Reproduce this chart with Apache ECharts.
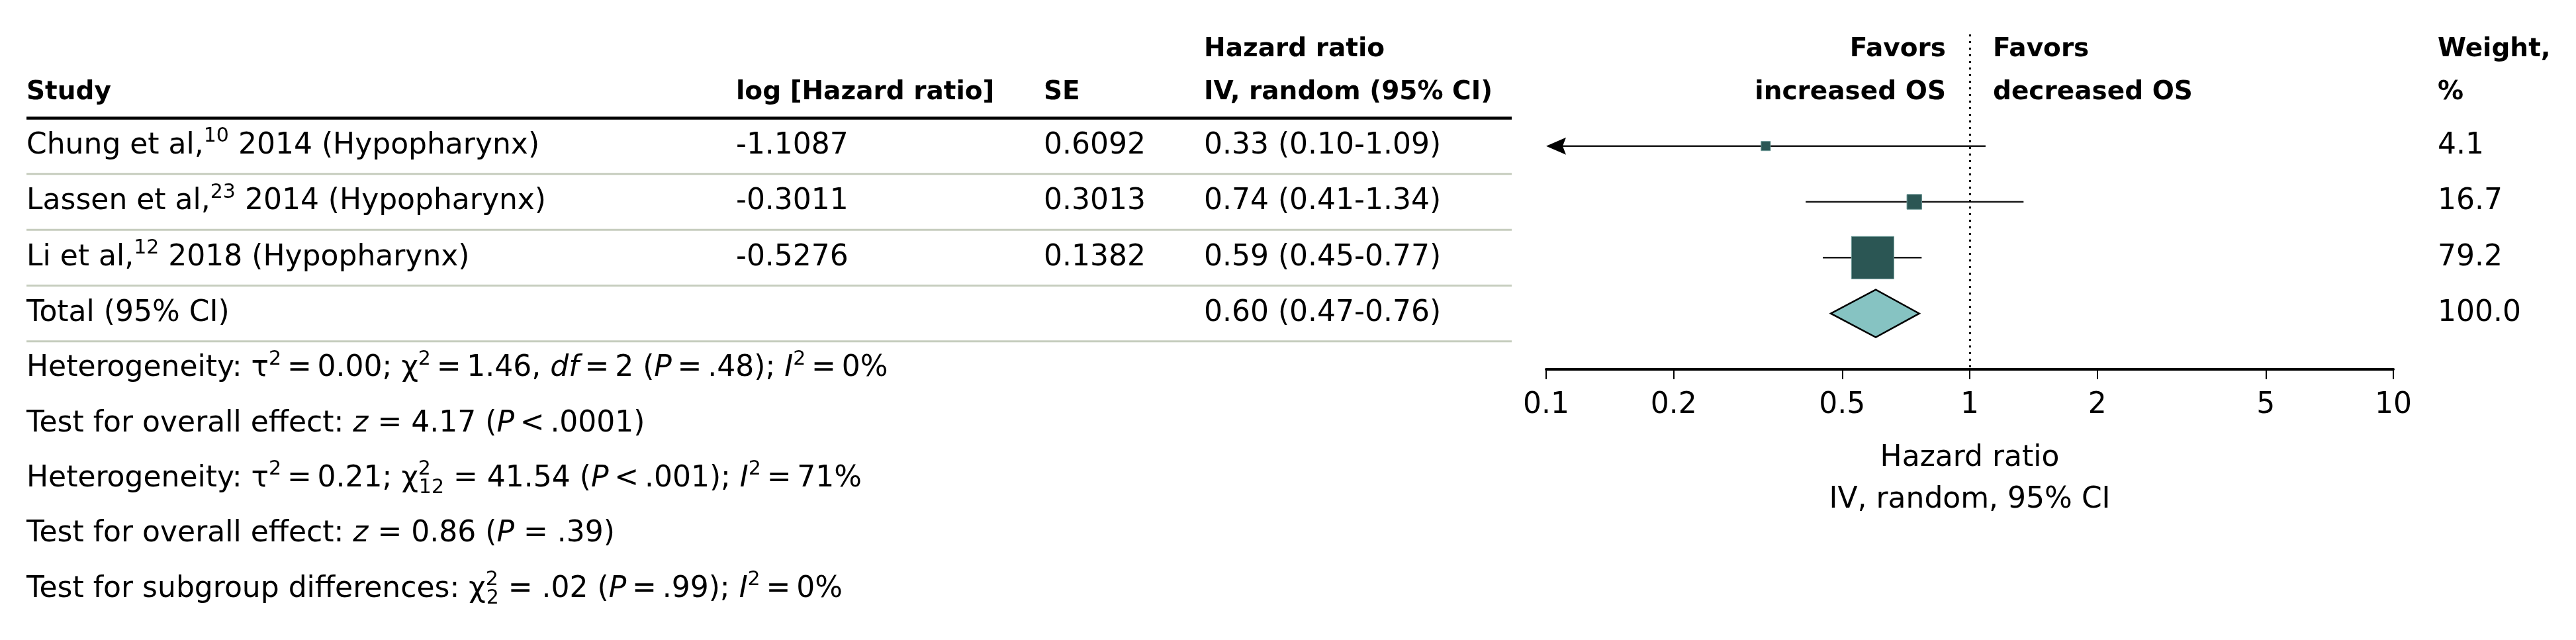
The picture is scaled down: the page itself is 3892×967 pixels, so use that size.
<!DOCTYPE html>
<html><head><meta charset="utf-8">
<script src="https://cdn.jsdelivr.net/npm/echarts@6/dist/echarts.min.js"></script>
<style>html,body{margin:0;padding:0;background:#fff}#c{width:3892px;height:967px}</style>
</head><body><div id="c"></div><script>
// ---------------- data ----------------
const studyNames = ['Chung et al,', 'Lassen et al,', 'Li et al,'];
const studyRefs = ['10', '23', '12'];
const studyYears = ['2014', '2014', '2018'];
const studySites = ['(Hypopharynx)', '(Hypopharynx)', '(Hypopharynx)'];
const logHR = ['-1.1087', '-0.3011', '-0.5276'];
const seValues = ['0.6092', '0.3013', '0.1382'];
const hrEst = [0.33, 0.74, 0.59];
const hrLow = [0.10, 0.41, 0.45];
const hrHigh = [1.09, 1.34, 0.77];
const weights = [4.1, 16.7, 79.2];
const totalLabel = ['Total (95% CI)'];
const totalEst = [0.60];
const totalLow = [0.47];
const totalHigh = [0.76];
const totalWeight = [100.0];
const xTicks = [0.1, 0.2, 0.5, 1, 2, 5, 10];
const headers = ['Study', 'log [Hazard ratio]', 'SE', 'Hazard ratio\nIV, random (95% CI)', 'Weight,\n%'];
const favorsLabels = ['Favors\nincreased OS', 'Favors\ndecreased OS'];
const axisTitle = 'Hazard ratio\nIV, random, 95% CI';
const footnotes = [
  'Heterogeneity: τ{sup|2}\u2009=\u20090.00; χ{sup|2}\u2009=\u20091.46, {it|df}\u2009=\u20092 ({it|P}\u2009=\u2009.48); {it|I}{sup|2}\u2009=\u20090%',
  'Test for overall effect: {it|z} = 4.17 ({it|P}\u2009<\u2009.0001)',
  'Heterogeneity: τ{sup|2}\u2009=\u20090.21; χ{supz|2}{sub|12} = 41.54 ({it|P}\u2009<\u2009.001); {it|I}{sup|2}\u2009=\u200971%',
  'Test for overall effect: {it|z} = 0.86 ({it|P} = .39)',
  'Test for subgroup differences: χ{supz|2}{sub|2} = .02 ({it|P}\u2009=\u2009.99); {it|I}{sup|2}\u2009=\u20090%'
];

// ---------------- style / layout ----------------
const FONT = 'DejaVu Sans';
const REG = 44, BOLD = 39, SUP = 30, LH = 58;
const AXIS_MIN = 0.1, AXIS_MAX = 10;
const GRID = {left: 2336, top: 52, width: 1280, height: 506};
const COL = {study: 40, log: 1112, se: 1577, hr: 1819, weight: 3683};
const RULE_X = [40, 2284];
const HEAD_Y = [75, 140];
const FOOT_Y0 = 557, FOOT_DY = 83.3;
const SQ_BASE = 11.3, SQ_SLOPE = 0.666;
const DIAMOND_HALF = 36;

const chart = echarts.init(document.getElementById('c'), null, {renderer: 'canvas'});

function renderStudy(params, api) {
  const lo = api.value(0), hi = api.value(1), est = api.value(2), row = api.value(3), w = api.value(4);
  const arrow = lo <= AXIS_MIN;
  const pLo = api.coord([Math.max(lo, AXIS_MIN), row]);
  const pHi = api.coord([Math.min(hi, AXIS_MAX), row]);
  const pEst = api.coord([est, row]);
  const size = SQ_BASE + SQ_SLOPE * w;
  const children = [];
  children.push({type: 'line', shape: {x1: arrow ? pLo[0] + 20 : pLo[0], y1: pLo[1], x2: pHi[0], y2: pHi[1]},
    style: {stroke: '#1a1a1a', lineWidth: 2.5}});
  if (arrow) {
    children.push({type: 'polygon', shape: {points: [[pLo[0], pLo[1]], [pLo[0] + 30, pLo[1] - 13], [pLo[0] + 25, pLo[1]], [pLo[0] + 30, pLo[1] + 13]]},
      style: {fill: '#000'}});
  }
  children.push({type: 'rect', shape: {x: pEst[0] - size / 2, y: pEst[1] - size / 2, width: size, height: size},
    style: {fill: '#2b5654', stroke: '#6a9694', lineWidth: 1}});
  return {type: 'group', children};
}

function renderTotal(params, api) {
  const row = api.value(3);
  const pLo = api.coord([api.value(0), row]);
  const pHi = api.coord([api.value(1), row]);
  const pEst = api.coord([api.value(2), row]);
  return {type: 'polygon', shape: {points: [[pLo[0], pLo[1]], [pEst[0], pEst[1] - DIAMOND_HALF], [pHi[0], pHi[1]], [pEst[0], pEst[1] + DIAMOND_HALF]]},
    style: {fill: '#86c3c2', stroke: '#000', lineWidth: 2.5}};
}

const option = {
  animation: false,
  backgroundColor: '#fff',
  grid: {left: GRID.left, top: GRID.top, width: GRID.width, height: GRID.height, containLabel: false},
  xAxis: {
    type: 'log', logBase: 10, min: AXIS_MIN, max: AXIS_MAX,
    axisLine: {show: true, onZero: false, lineStyle: {color: '#000', width: 4}},
    axisTick: {show: true, customValues: xTicks, length: 15, lineStyle: {color: '#000', width: 2}},
    minorTick: {show: false},
    axisLabel: {show: true, customValues: xTicks, fontFamily: FONT, fontSize: REG, color: '#000', margin: 33,
      formatter: v => String(+(+v).toPrecision(3))},
    splitLine: {show: false},
    name: axisTitle, nameLocation: 'middle', nameGap: 103,
    nameTextStyle: {fontFamily: FONT, fontSize: REG, color: '#000', lineHeight: 63}
  },
  yAxis: {type: 'value', inverse: true, min: -2, max: 4, show: false},
  series: [
    {
      type: 'custom', renderItem: renderStudy, encode: {x: [0, 1, 2], y: 3},
      data: hrLow.map((lo, i) => [lo, hrHigh[i], hrEst[i], i, weights[i]]), z: 3
    },
    {
      type: 'custom', renderItem: renderTotal, encode: {x: [0, 1, 2], y: 3},
      data: totalEst.map((e, i) => [totalLow[i], totalHigh[i], e, studyNames.length + i]), z: 3
    },
    {
      type: 'line', data: [], z: 2, silent: true,
      markLine: {silent: true, symbol: ['none', 'none'], label: {show: false},
        lineStyle: {color: '#000', width: 3, type: [3, 7]}, data: [{xAxis: 1}]}
    }
  ]
};
chart.setOption(option);

const yOf = v => chart.convertToPixel({yAxisIndex: 0}, v);
const xOf = v => chart.convertToPixel({xAxisIndex: 0}, v);

const richStyles = {
  sup: {fontFamily: FONT, fontSize: SUP, fill: '#000', verticalAlign: 'top', lineHeight: LH},
  supz: {fontFamily: FONT, fontSize: SUP, fill: '#000', verticalAlign: 'top', lineHeight: LH, width: 1},
  sub: {fontFamily: FONT, fontSize: SUP, fill: '#000', verticalAlign: 'bottom', lineHeight: LH},
  it: {fontFamily: FONT, fontSize: REG, fontStyle: 'italic', fill: '#000', lineHeight: LH}
};
function txt(x, y, text, opt) {
  opt = opt || {};
  return {type: 'text', x, y, silent: true, z: 10, style: {
    text, fontFamily: FONT, fontSize: opt.bold ? BOLD : REG, fontWeight: opt.bold ? 'bold' : 'normal',
    fill: '#000', align: opt.align || 'left', verticalAlign: 'middle',
    lineHeight: opt.lh || LH, rich: richStyles}};
}
const g = [];
// headers
const headMid = (HEAD_Y[0] + HEAD_Y[1]) / 2, headLH = HEAD_Y[1] - HEAD_Y[0];
g.push(txt(COL.study, HEAD_Y[1], headers[0], {bold: true}));
g.push(txt(COL.log, HEAD_Y[1], headers[1], {bold: true}));
g.push(txt(COL.se, HEAD_Y[1], headers[2], {bold: true}));
g.push(txt(COL.hr, headMid, headers[3], {bold: true, lh: headLH}));
g.push(txt(COL.weight, headMid, headers[4], {bold: true, lh: headLH}));
const one = xOf(1);
g.push(txt(one - 36, headMid, favorsLabels[0], {bold: true, lh: headLH, align: 'right'}));
g.push(txt(one + 35, headMid, favorsLabels[1], {bold: true, lh: headLH}));
// rows
const fmtCI = (e, l, h) => e.toFixed(2) + ' (' + l.toFixed(2) + '-' + h.toFixed(2) + ')';
studyNames.forEach((n, i) => {
  const y = yOf(i);
  g.push(txt(COL.study, y, n + '{sup|' + studyRefs[i] + '} ' + studyYears[i] + ' ' + studySites[i]));
  g.push(txt(COL.log, y, logHR[i]));
  g.push(txt(COL.se, y, seValues[i]));
  g.push(txt(COL.hr, y, fmtCI(hrEst[i], hrLow[i], hrHigh[i])));
  g.push(txt(COL.weight, y, weights[i].toFixed(1)));
});
const ty = yOf(studyNames.length);
g.push(txt(COL.study, ty, totalLabel[0]));
g.push(txt(COL.hr, ty, fmtCI(totalEst[0], totalLow[0], totalHigh[0])));
g.push(txt(COL.weight, ty, totalWeight[0].toFixed(1)));
// rules
const ruleY = yOf(-0.5);
g.push({type: 'line', silent: true, shape: {x1: RULE_X[0], y1: ruleY, x2: RULE_X[1], y2: ruleY}, style: {stroke: '#000', lineWidth: 4.5}});
for (let i = 0; i <= studyNames.length; i++) {
  const yy = yOf(i + 0.5);
  g.push({type: 'line', silent: true, shape: {x1: RULE_X[0], y1: yy, x2: RULE_X[1], y2: yy}, style: {stroke: '#c6cdbe', lineWidth: 3}});
}
// footnotes
footnotes.forEach((f, i) => g.push(txt(COL.study, FOOT_Y0 + i * FOOT_DY, f)));
chart.setOption({graphic: g});
</script></body></html>
